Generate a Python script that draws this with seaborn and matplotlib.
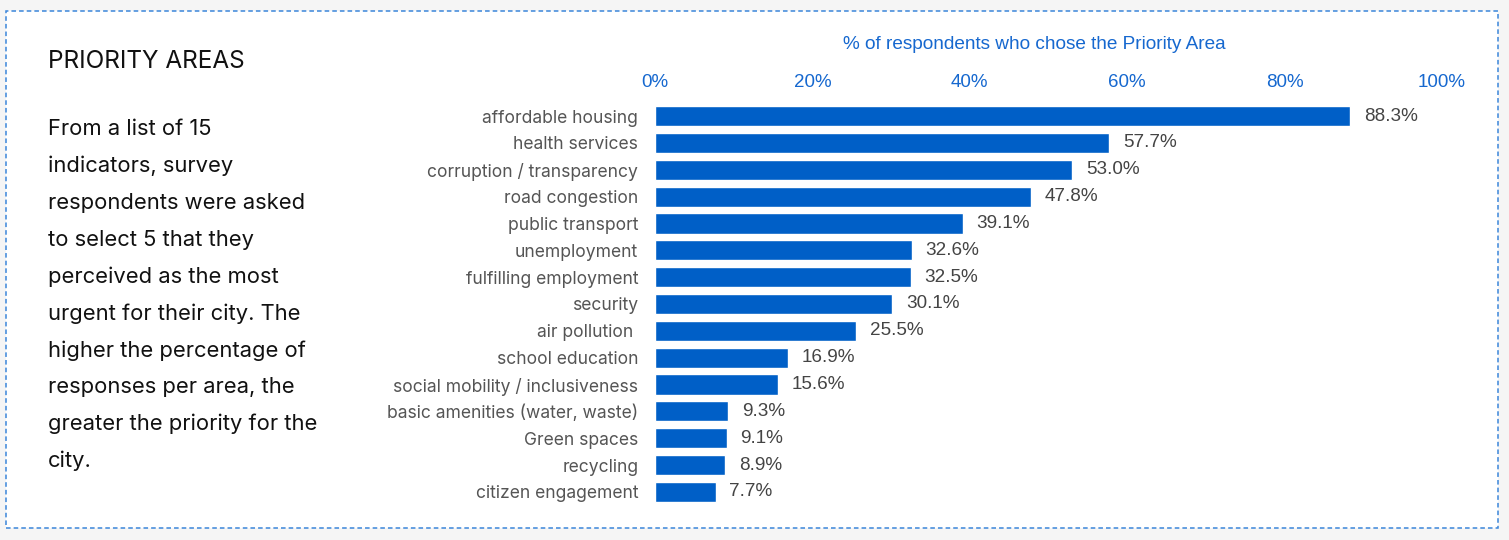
import pandas as pd
import matplotlib.pyplot as plt
import seaborn as sns
from matplotlib.patches import Rectangle

# datos
areas = ["affordable housing", "health services", "corruption / transparency",
         "road congestion", "public transport", "unemployment",
         "fulfilling employment", "security", "air pollution ",
         "school education", "social mobility / inclusiveness",
         "basic amenities (water, waste)", "Green spaces", "recycling",
         "citizen engagement"]
pct = [88.3, 57.7, 53.0, 47.8, 39.1, 32.6, 32.5, 30.1, 25.5,
       16.9, 15.6, 9.3, 9.1, 8.9, 7.7]
ticks = [0, 20, 40, 60, 80, 100]

df = pd.DataFrame({"area": areas, "pct": pct})

sns.set_style("white")
bar_blue = "#005fc7"
text_blue = "#1668cf"

fig = plt.figure(figsize=(15.09, 5.4), dpi=100)
fig.patch.set_facecolor("#f5f5f5")

# caja punteada
fig.patches.append(Rectangle((6 / 1509, 12 / 540), 1492 / 1509, 517 / 540,
                             transform=fig.transFigure, facecolor="white",
                             edgecolor="#3b86da", linewidth=1.1,
                             linestyle=(0, (3, 2)), zorder=-5))

ax = fig.add_axes([655 / 1509, 34.6 / 540, 787 / 1509, 402.8 / 540])
ax.set_zorder(2)
ax.set_facecolor("none")
sns.barplot(data=df, x="pct", y="area", color=bar_blue, width=0.75,
            saturation=1, ax=ax)
ax.set_xlim(0, 100)
ax.set_ylim(14.5, -0.5)

ax.xaxis.tick_top()
ax.xaxis.set_label_position("top")
ax.set_xticks(ticks)
ax.set_xticklabels([f"{t}%" for t in ticks], color=text_blue,
                   fontsize=13.5, family="Liberation Sans")
ax.set_xlabel("% of respondents who chose the Priority Area", color=text_blue,
              fontsize=13.7, family="Liberation Sans", labelpad=18, x=0.482)
ax.set_ylabel("")
ax.tick_params(axis="x", length=0, pad=8)
ax.tick_params(axis="y", length=0, pad=12)
for lbl in ax.get_yticklabels():
    lbl.set_fontsize(12.6)
    lbl.set_color("#555555")
    lbl.set_family("Inter")
sns.despine(ax=ax, left=True, bottom=True, top=True, right=True)

ax.bar_label(ax.containers[0], labels=[f"{v:.1f}%" for v in pct],
             padding=10, fontsize=13.6, color="#444444",
             family="Liberation Sans")

# panel de texto
fig.text(48 / 1509, 1 - 61 / 540, "PRIORITY AREAS", fontsize=17.5,
         family="Inter", color="#111111", va="center")
body = ["From a list of 15", "indicators, survey", "respondents were asked",
        "to select 5 that they", "perceived as the most",
        "urgent for their city. The", "higher the percentage of",
        "responses per area, the", "greater the priority for the", "city."]
for i, line in enumerate(body):
    fig.text(48 / 1509, 1 - (129 + i * 36.9) / 540, line, fontsize=15.8,
             family="Inter", color="#111111", va="center")

fig.savefig("out.png", dpi=100, facecolor=fig.get_facecolor())
